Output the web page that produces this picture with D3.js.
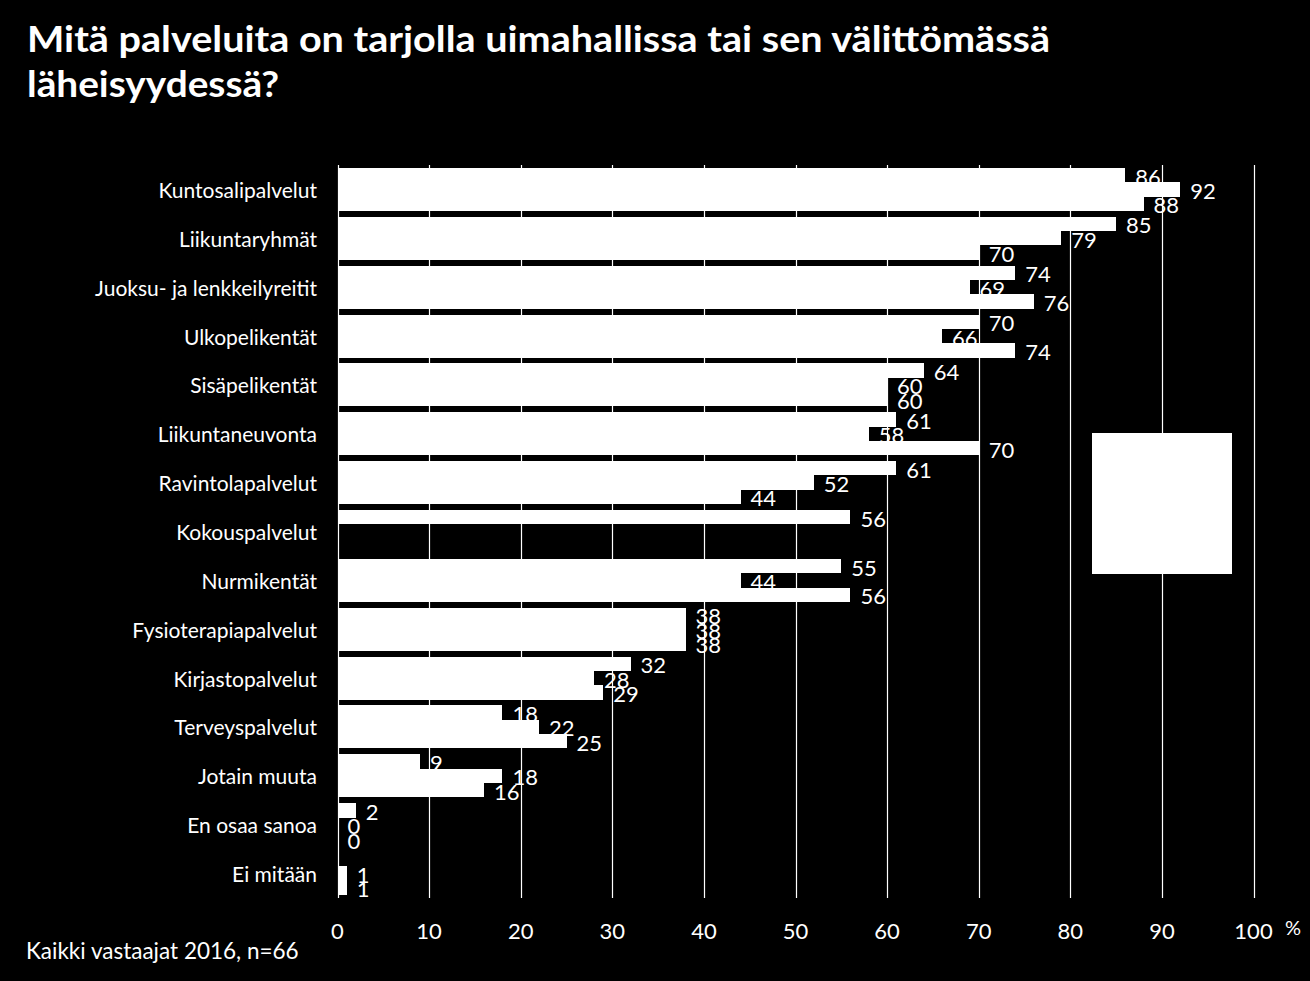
<!DOCTYPE html>
<html>
<head>
<meta charset="utf-8">
<script src="https://cdn.jsdelivr.net/npm/d3@7"></script>
<style>
  html, body { margin: 0; padding: 0; background: #000; }
  svg { display: block; }
  text { font-family: Lato, "Open Sans", sans-serif; fill: #fff; }
</style>
</head>
<body>
<svg id="chart" width="1310" height="981"></svg>
<script>
const categories = [
  "Kuntosalipalvelut", "Liikuntaryhmät", "Juoksu- ja lenkkeilyreitit", "Ulkopelikentät",
  "Sisäpelikentät", "Liikuntaneuvonta", "Ravintolapalvelut", "Kokouspalvelut",
  "Nurmikentät", "Fysioterapiapalvelut", "Kirjastopalvelut", "Terveyspalvelut",
  "Jotain muuta", "En osaa sanoa", "Ei mitään"
];
const seriesNames = ["Sarja 1", "Sarja 2", "Sarja 3"];
const series1 = [86, 85, 74, 70, 64, 61, 61, 56, 55, 38, 32, 18, 9, 2, null];
const series2 = [92, 79, 69, 66, 60, 58, 52, null, 44, 38, 28, 22, 18, 0, 1];
const series3 = [88, 70, 76, 74, 60, 70, 44, null, 56, 38, 29, 25, 16, 0, 1];
const xTicks = [0, 10, 20, 30, 40, 50, 60, 70, 80, 90, 100];
const titleLines = ["Mitä palveluita on tarjolla uimahallissa tai sen välittömässä", "läheisyydessä?"];
const footnote = "Kaikki vastaajat 2016, n=66";
const unitLabel = "%";

const seriesValues = [series1, series2, series3];

const svg = d3.select("#chart");
svg.append("rect").attr("width", 1310).attr("height", 981).attr("fill", "#000");

const plot = { left: 337.5, right: 1253.5, top: 165, bottom: 898 };

const x = d3.scaleLinear().domain([0, 100]).range([plot.left, plot.right]);
const y = d3.scaleBand().domain(categories).range([plot.top, plot.bottom])
  .paddingInner(0.12).paddingOuter(0.06);
const ySub = d3.scaleBand().domain(d3.range(seriesValues.length)).range([0, y.bandwidth()]).padding(0);

// Title
const titleWidths = [1023, 252];
svg.append("g").selectAll("text").data(titleLines).join("text")
  .attr("x", 27)
  .attr("y", (d, i) => 52 + i * 45)
  .attr("font-size", 36)
  .attr("font-weight", 700)
  .attr("textLength", (d, i) => titleWidths[i])
  .attr("lengthAdjust", "spacingAndGlyphs")
  .text(d => d);

// Gridlines
svg.append("g").selectAll("line").data(xTicks).join("line")
  .attr("x1", d => Math.round(x(d)) + 0.5).attr("x2", d => Math.round(x(d)) + 0.5)
  .attr("y1", plot.top).attr("y2", plot.bottom)
  .attr("stroke", "#fff").attr("stroke-width", 1.2);

// Category labels
svg.append("g").selectAll("text").data(categories).join("text")
  .attr("x", 317)
  .attr("y", d => y(d) + y.bandwidth() / 2)
  .attr("text-anchor", "end")
  .attr("dominant-baseline", "central")
  .attr("font-size", 21)
  .text(d => d);

// Bars and labels, series by series
seriesValues.forEach((vals, si) => {
  const data = categories.map((c, i) => ({ c, v: vals[i] })).filter(d => d.v !== null);
  const g = svg.append("g");
  g.selectAll("rect").data(data).join("rect")
    .attr("x", x(0))
    .attr("y", d => Math.round(y(d.c) + ySub(si)))
    .attr("width", d => x(d.v) - x(0))
    .attr("height", d => Math.round(y(d.c) + ySub(si) + ySub.bandwidth()) - Math.round(y(d.c) + ySub(si)))
    .attr("shape-rendering", "crispEdges")
    .attr("fill", "#fff");
  g.selectAll("text").data(data).join("text")
    .attr("x", d => x(d.v) + 10)
    .attr("y", d => y(d.c) + ySub(si) + ySub.bandwidth() / 2 + 1)
    .attr("dominant-baseline", "central")
    .attr("font-size", 22)
    .text(d => d3.format("d")(d.v));
});

// Legend box (contents white on white)
const legend = svg.append("g").attr("transform", "translate(1092,433)");
legend.append("rect").attr("width", 140).attr("height", 141).attr("fill", "#fff");

// X tick labels
svg.append("g").selectAll("text").data(xTicks).join("text")
  .attr("x", d => x(d))
  .attr("y", 930)
  .attr("text-anchor", "middle")
  .attr("dominant-baseline", "central")
  .attr("font-size", 22)
  .text(d => d);

svg.append("text").attr("x", 1285).attr("y", 927)
  .attr("dominant-baseline", "central").attr("font-size", 20).text(unitLabel);

svg.append("text").attr("x", 26).attr("y", 959)
  .attr("font-size", 22.5).text(footnote);
</script>
</body>
</html>
